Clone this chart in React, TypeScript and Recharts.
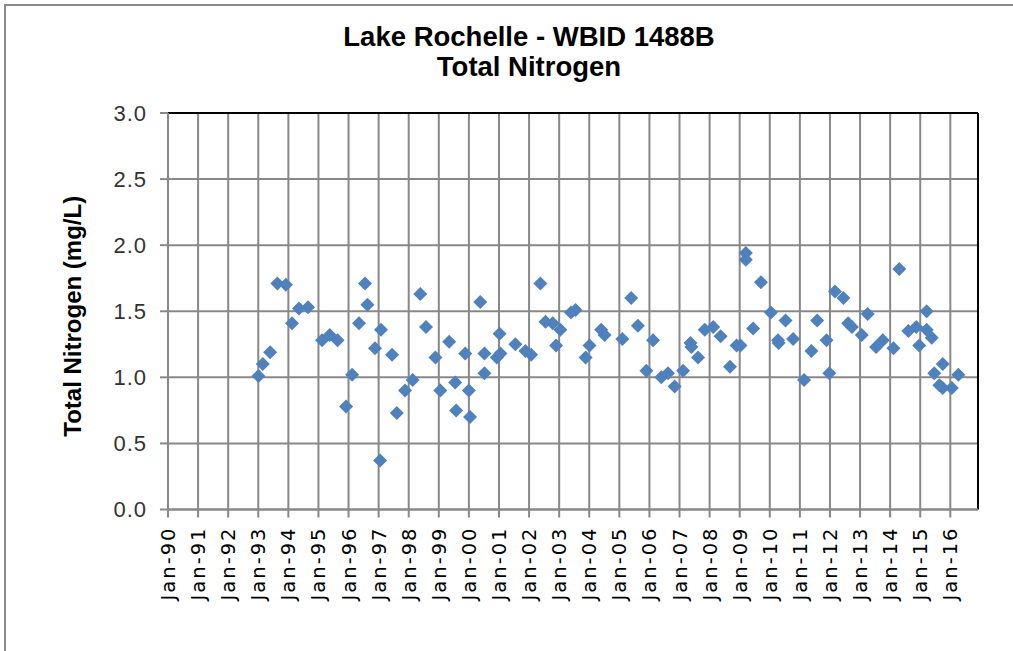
import React from "react";
import {
  ScatterChart,
  Scatter,
  XAxis,
  YAxis,
  CartesianGrid,
  ReferenceLine,
  Label,
} from "recharts";

const chartTitle = "Lake Rochelle - WBID 1488B";
const chartSubtitle = "Total Nitrogen";
const yAxisTitle = "Total Nitrogen (mg/L)";

const sampleDates = [
  "1993-01-03", "1993-02-25", "1993-05-25", "1993-08-21", "1993-12-02",
  "1994-02-14", "1994-05-10", "1994-08-28", "1995-02-14", "1995-05-18",
  "1995-08-21", "1995-12-02", "1996-02-14", "1996-05-07", "1996-07-19",
  "1996-08-18", "1996-11-18", "1997-01-30", "1997-01-19", "1997-06-13",
  "1997-08-10", "1997-11-18", "1998-02-18", "1998-05-21", "1998-07-30",
  "1998-11-21", "1999-01-19", "1999-05-07", "1999-07-19", "1999-07-30",
  "1999-11-18", "2000-01-01", "2000-01-15", "2000-05-18", "2000-07-08",
  "2000-07-08", "2000-12-06", "2001-01-08", "2001-01-19", "2001-07-19",
  "2001-11-18", "2002-01-26", "2002-05-18", "2002-07-19", "2002-10-15",
  "2002-11-25", "2003-01-15", "2003-05-25", "2003-07-19", "2003-11-18",
  "2004-01-04", "2004-05-25", "2004-07-05", "2005-02-07", "2005-05-25",
  "2005-08-14", "2005-11-25", "2006-02-14", "2006-05-25", "2006-08-14",
  "2006-11-03", "2007-02-14", "2007-05-14", "2007-05-25", "2007-08-14",
  "2007-11-03", "2008-02-14", "2008-05-14", "2008-09-05", "2008-11-25",
  "2009-01-11", "2009-03-16", "2009-03-16", "2009-06-13", "2009-09-16",
  "2010-01-15", "2010-04-11", "2010-04-18", "2010-07-11", "2010-10-11",
  "2011-02-21", "2011-05-21", "2011-07-30", "2011-11-21", "2011-12-24",
  "2012-03-02", "2012-06-13", "2012-08-10", "2012-09-24", "2013-01-22",
  "2013-04-04", "2013-07-15", "2013-10-04", "2014-02-10", "2014-04-22",
  "2014-08-10", "2014-11-14", "2014-12-20", "2015-03-20", "2015-03-20",
  "2015-05-21", "2015-06-20", "2015-08-21", "2015-10-01", "2015-10-01",
  "2016-01-19", "2016-04-08",
];

const tnValues = [
  1.01, 1.10, 1.19, 1.71, 1.70,
  1.41, 1.52, 1.53, 1.28, 1.32,
  1.28, 0.78, 1.02, 1.41, 1.71,
  1.55, 1.22, 1.36, 0.37, 1.17,
  0.73, 0.90, 0.98, 1.63, 1.38,
  1.15, 0.90, 1.27, 0.96, 0.75,
  1.18, 0.90, 0.70, 1.57, 1.03,
  1.18, 1.15, 1.33, 1.18, 1.25,
  1.20, 1.17, 1.71, 1.42, 1.41,
  1.24, 1.36, 1.49, 1.51, 1.15,
  1.24, 1.36, 1.32, 1.29, 1.60,
  1.39, 1.05, 1.28, 1.00, 1.03,
  0.93, 1.05, 1.26, 1.23, 1.15,
  1.36, 1.38, 1.31, 1.08, 1.24,
  1.24, 1.94, 1.89, 1.37, 1.72,
  1.49, 1.28, 1.26, 1.43, 1.29,
  0.98, 1.20, 1.43, 1.28, 1.03,
  1.65, 1.60, 1.41, 1.38, 1.32,
  1.48, 1.23, 1.28, 1.22, 1.82,
  1.35, 1.38, 1.24, 1.50, 1.36,
  1.30, 1.03, 0.94, 1.10, 0.92,
  0.92, 1.02,
];

const xTickYears = [
  1990, 1991, 1992, 1993, 1994, 1995, 1996, 1997, 1998, 1999, 2000, 2001, 2002,
  2003, 2004, 2005, 2006, 2007, 2008, 2009, 2010, 2011, 2012, 2013, 2014, 2015,
  2016,
];
const xDomain = [1990, 2016.92];
const yTicks = [0, 0.5, 1.0, 1.5, 2.0, 2.5, 3.0];
const yDomain = [0, 3];

function toDecimalYear(s: string): number {
  const [y, m, d] = s.split("-").map(Number);
  const start = Date.UTC(y, 0, 1);
  const end = Date.UTC(y + 1, 0, 1);
  return y + (Date.UTC(y, m - 1, d) - start) / (end - start);
}

const data = sampleDates.map((d, i) => ({ x: toDecimalYear(d), y: tnValues[i] }));

const formatYearTick = (v: number) => "Jan-" + String(Math.round(v) % 100).padStart(2, "0");

const XTick = (props: any) => {
  const { x, y, payload } = props;
  return (
    <text
      x={x}
      y={y}
      transform={`rotate(-90 ${x} ${y})`}
      textAnchor="end"
      dy="0.36em"
      fontFamily="DejaVu Sans"
      fontSize={19.5}
      letterSpacing={2}
      fill="#000"
    >
      {formatYearTick(payload.value)}
    </text>
  );
};

const Diamond = (props: any) => {
  const { cx, cy } = props;
  const r = 7;
  return (
    <polygon
      points={`${cx},${cy - r} ${cx + r},${cy} ${cx},${cy + r} ${cx - r},${cy}`}
      fill="#4F81BD"
    />
  );
};

export default function App() {
  return (
    <div
      style={{
        position: "absolute",
        left: 0,
        top: 0,
        width: 1013,
        height: 651,
        overflow: "hidden",
        background: "#fff",
      }}
    >
      <div
        style={{
          position: "absolute",
          left: 4,
          top: 4,
          width: 1040,
          height: 700,
          border: "2px solid #8a8a8a",
          boxSizing: "border-box",
        }}
      />
      <div
        style={{
          position: "absolute",
          left: 229,
          width: 600,
          top: 22,
          textAlign: "center",
          fontFamily: "'Liberation Sans', Arial, sans-serif",
          fontWeight: "bold",
          fontSize: 27.5,
          lineHeight: "30px",
          color: "#000",
        }}
      >
        <div>{chartTitle}</div>
        <div>{chartSubtitle}</div>
      </div>
      <div style={{ position: "absolute", left: 0, top: 0 }}>
        <ScatterChart
          width={1013}
          height={651}
          margin={{ top: 113, right: 35, bottom: 41.5, left: 100 }}
        >
          <CartesianGrid stroke="#888" strokeWidth={2} />
          <XAxis
            type="number"
            dataKey="x"
            domain={xDomain}
            ticks={xTickYears}
            interval={0}
            height={100}
            tickSize={8}
            tickMargin={9}
            tick={<XTick />}
            stroke="#888"
            strokeWidth={2}
            allowDataOverflow
          />
          <YAxis
            type="number"
            dataKey="y"
            domain={yDomain}
            ticks={yTicks}
            width={68}
            tickSize={8}
            tickMargin={13}
            tickFormatter={(v: number) => v.toFixed(1)}
            tick={{
              fontFamily: "'Liberation Sans', Arial, sans-serif",
              fontSize: 22,
              letterSpacing: 1,
              fill: "#333",
            }}
            stroke="#888"
            strokeWidth={2}
          >
            <Label
              content={(p: any) => {
                const vb = p.viewBox || {};
                const cx = vb.x - 28;
                const cy = vb.y + vb.height / 2 + 5;
                return (
                  <text
                    x={cx}
                    y={cy}
                    transform={`rotate(-90 ${cx} ${cy})`}
                    textAnchor="middle"
                    dy="0.36em"
                    fontFamily="'Liberation Sans', Arial, sans-serif"
                    fontWeight="bold"
                    fontSize={24}
                    fill="#000"
                  >
                    {yAxisTitle}
                  </text>
                );
              }}
            />
          </YAxis>
          <ReferenceLine y={yDomain[1]} stroke="#000" strokeWidth={2} />
          <ReferenceLine x={xDomain[1]} stroke="#000" strokeWidth={2} />
          <Scatter data={data} shape={<Diamond />} isAnimationActive={false} />
        </ScatterChart>
      </div>
    </div>
  );
}
